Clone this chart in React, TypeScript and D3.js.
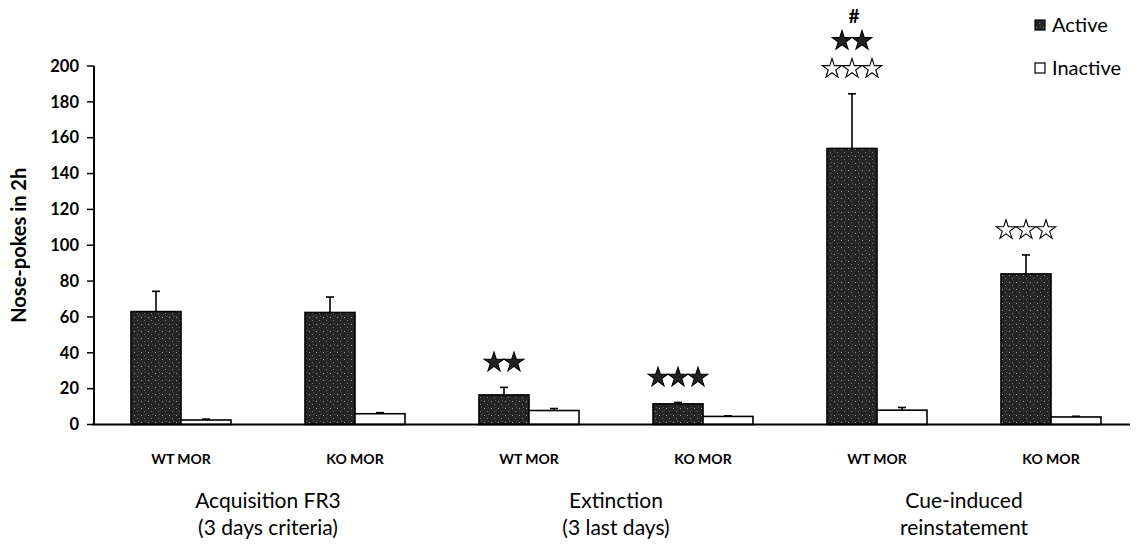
import React from 'react';
import * as d3 from 'd3';

// groups and their x-axis labels
const categories = ['WT1', 'KO1', 'WT2', 'KO2', 'WT3', 'KO3'];
const categoryLabels = ['WT MOR', 'KO MOR', 'WT MOR', 'KO MOR', 'WT MOR', 'KO MOR'];
const phaseLabels = [
  ['Acquisition FR3', '(3 days criteria)'],
  ['Extinction', '(3 last days)'],
  ['Cue-induced', 'reinstatement'],
];

const series = ['Active', 'Inactive'];
const activeValues = [63, 62.5, 16.5, 11.5, 154, 84];
const activeErrors = [11.3, 8.6, 4.2, 0.8, 30.5, 10.6];
const inactiveValues = [2.5, 6, 7.8, 4.5, 8, 4.2];
const inactiveErrors = [0.5, 0.6, 1.1, 0.3, 1.5, 0.4];

const yTicks = [0, 20, 40, 60, 80, 100, 120, 140, 160, 180, 200];

// significance marks above the active bars, rows listed bottom to top
const annotations = [
  { cat: 'WT2', rows: [{ kind: 'filled', n: 2 }] },
  { cat: 'KO2', rows: [{ kind: 'filled', n: 3 }] },
  { cat: 'WT3', rows: [{ kind: 'hollow', n: 3 }, { kind: 'filled', n: 2 }, { kind: 'hash', n: 1 }] },
  { cat: 'KO3', rows: [{ kind: 'hollow', n: 3 }] },
];

const W = 1137;
const H = 548;
const margin = { left: 94, top: 66, right: 0, bottom: 123 };
const barW = 50;
const font = 'Lato, "Open Sans", sans-serif';

const App = () => {
  const x = d3.scaleBand<string>().domain(categories).range([margin.left, margin.left + 174 * 6]);
  const x1 = d3.scaleBand<string>().domain(series).range([x.bandwidth() / 2 - barW, x.bandwidth() / 2 + barW]);
  const y = d3.scaleLinear().domain([0, 200]).range([H - margin.bottom - 0.5, margin.top]);
  const starPath = d3.symbol().type(d3.symbolStar).size(118)();

  const bars = categories.flatMap((c, i) => [
    { c, s: 'Active', v: activeValues[i], e: activeErrors[i] },
    { c, s: 'Inactive', v: inactiveValues[i], e: inactiveErrors[i] },
  ]);

  return (
    <svg width={W} height={H} style={{ position: 'absolute', left: 0, top: 0, background: '#fff' }}>
      <defs>
        {/* speckled dark fill like the scanned original */}
        <pattern id="speckle" width={7} height={7} patternUnits="userSpaceOnUse">
          <rect width={7} height={7} fill="#262626" />
          <rect x={1} y={2} width={1} height={1} fill="#9a9a9a" />
          <rect x={4} y={5} width={1} height={1} fill="#777" />
          <rect x={5} y={1} width={1} height={1} fill="#555" />
        </pattern>
      </defs>

      {/* error bars, upper half only */}
      {bars.map((d, i) => {
        const cx = (x(d.c) as number) + (x1(d.s) as number) + x1.bandwidth() / 2;
        return (
          <g key={'e' + i} stroke="#000" strokeWidth={1.6}>
            <line x1={cx} x2={cx} y1={y(d.v)} y2={y(d.v + d.e)} />
            <line x1={cx - 4} x2={cx + 4} y1={y(d.v + d.e)} y2={y(d.v + d.e)} />
          </g>
        );
      })}
      {bars.map((d, i) => (
        <rect
          key={'b' + i}
          x={(x(d.c) as number) + (x1(d.s) as number)}
          y={y(d.v)}
          width={x1.bandwidth()}
          height={y(0) - y(d.v)}
          fill={d.s === 'Active' ? 'url(#speckle)' : '#fff'}
          stroke="#000"
          strokeWidth={1.6}
        />
      ))}

      {/* axes */}
      <line x1={margin.left} x2={margin.left} y1={y(200)} y2={y(0)} stroke="#000" strokeWidth={2} />
      <line x1={margin.left - 2} x2={1130} y1={y(0)} y2={y(0)} stroke="#000" strokeWidth={2} />
      {yTicks.map((t) => (
        <g key={t}>
          <line x1={margin.left - 7} x2={margin.left} y1={y(t)} y2={y(t)} stroke="#000" strokeWidth={1.5} />
          <text x={margin.left - 15} y={y(t)} dy="0.35em" textAnchor="end" fontFamily={font} fontWeight={700} fontSize={16.5}>
            {t}
          </text>
        </g>
      ))}
      <text
        transform={`translate(26,${(y(0) + y(200)) / 2}) rotate(-90)`}
        textAnchor="middle"
        fontFamily={font}
        fontWeight={700}
        fontSize={20}
      >
        Nose-pokes in 2h
      </text>

      {/* category and phase labels */}
      {categories.map((c, i) => (
        <text key={c} x={(x(c) as number) + x.bandwidth() / 2} y={464} textAnchor="middle" fontFamily={font} fontWeight={700} fontSize={14}>
          {categoryLabels[i]}
        </text>
      ))}
      {phaseLabels.map((lines, i) => {
        const cx = x(categories[i * 2 + 1]) as number;
        return (
          <g key={i} fontFamily={font} fontSize={21} textAnchor="middle">
            <text x={cx} y={508}>{lines[0]}</text>
            <text x={cx} y={535}>{lines[1]}</text>
          </g>
        );
      })}

      {/* significance marks */}
      {annotations.map((a) => {
        const i = categories.indexOf(a.cat);
        const cx = (x(a.cat) as number) + (x1('Active') as number) + x1.bandwidth() / 2;
        const top = y(activeValues[i] + activeErrors[i]);
        return a.rows.map((r, k) => {
          const cy = top - 27 - k * 28 + (k === 2 ? 6 : 0);
          if (r.kind === 'hash') {
            return (
              <text key={a.cat + k} x={cx + 2} y={cy} dy="0.35em" textAnchor="middle" fontFamily={font} fontWeight={700} fontSize={19}>
                #
              </text>
            );
          }
          return d3.range(r.n).map((j) => (
            <path
              key={a.cat + k + j}
              d={starPath as string}
              transform={`translate(${cx + (j - (r.n - 1) / 2) * 20},${cy + 2})`}
              fill={r.kind === 'filled' ? '#222' : '#fff'}
              stroke="#000"
              strokeWidth={1.1}
            />
          ));
        });
      })}

      {/* legend */}
      {series.map((s, i) => (
        <g key={s} transform={`translate(1035,${25 + i * 43})`}>
          <rect x={0} y={-5} width={10} height={10} fill={s === 'Active' ? 'url(#speckle)' : '#fff'} stroke="#000" strokeWidth={1.2} />
          <text x={17} y={0} dy="0.35em" fontFamily={font} fontSize={20}>
            {s}
          </text>
        </g>
      ))}
    </svg>
  );
};

export default App;
